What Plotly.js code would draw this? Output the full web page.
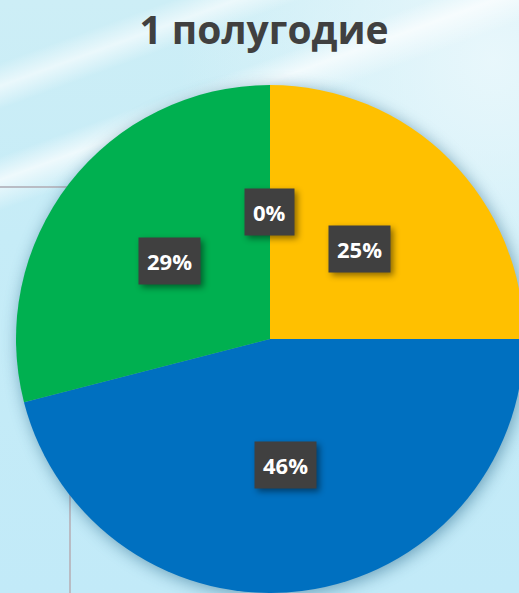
<!DOCTYPE html>
<html>
<head>
<meta charset="utf-8">
<script src="https://cdn.plot.ly/plotly-3.0.1.min.js"></script>
<style>
  html, body {
    margin: 0;
    padding: 0;
    width: 519px;
    height: 593px;
    overflow: hidden;
  }
  body {
    position: relative;
    background:
      linear-gradient(160deg, rgba(255,255,255,0) 0%, rgba(255,255,255,0) 20%, rgba(255,255,255,0.7) 23%, rgba(255,255,255,0) 27%, rgba(255,255,255,0) 100%),
      linear-gradient(160deg, rgba(255,255,255,0) 0%, rgba(255,255,255,0) 8%, rgba(255,255,255,0.6) 11%, rgba(255,255,255,0) 14%, rgba(255,255,255,0) 100%),
      radial-gradient(ellipse at 95% 10%, rgba(235,248,252,0.9) 0%, rgba(235,248,252,0) 45%),
      linear-gradient(180deg, #cdeef6 0%, #c6ecf7 40%, #c2eaf8 100%);
  }
  .deco-h { position: absolute; left: 0; top: 186px; width: 70px; height: 2px; background: #b9bcc4; }
  .deco-v { position: absolute; left: 69px; top: 186px; width: 2px; height: 420px; background: #b9bcc4; }
  #chart { position: absolute; left: 0; top: 0; width: 540px; height: 593px; }
  #chart .pielayer { filter: drop-shadow(2px 3px 8px rgba(0, 70, 110, 0.45)); }
  #chart .annotation rect.bg { filter: drop-shadow(3px 3px 3px rgba(0, 0, 0, 0.45)); }
</style>
</head>
<body>
<div class="deco-h"></div>
<div class="deco-v"></div>
<div id="chart"></div>
<script>
// chart data
var chartTitle = '1 полугодие';
var categories = ['Категория 1', 'Категория 2', 'Категория 3', 'Категория 4'];
var shares = [25, 46, 29, 0];
var sliceColors = ['#FFC000', '#0070C0', '#00B050', '#7F7F7F'];

var W = 540, H = 593;
var pieTop = 85, pieSize = 508; // pie box in px
var domX = [(270 - pieSize / 2) / W, (270 + pieSize / 2) / W];
var domY = [(H - pieTop - pieSize) / H, (H - pieTop) / H];

// percent labels sit half way out along each slice's middle angle
function labelAnnotations(vals) {
    var total = vals.reduce(function(a, b) { return a + b; }, 0);
    var cx = (domX[0] + domX[1]) / 2;
    var cy = (domY[0] + domY[1]) / 2;
    var r = pieSize / 2 * 0.5;
    var acc = 0;
    var out = [];
    for (let i = 0; i < vals.length; i++) {
        let mid = (acc + vals[i] / 2) / total * 2 * Math.PI;
        acc += vals[i];
        out.push({
            xref: 'paper', yref: 'paper',
            x: cx + r * Math.sin(mid) / W,
            y: cy + r * Math.cos(mid) / H,
            xanchor: 'center',
            yanchor: 'middle',
            text: Math.round(vals[i] / total * 100) + '%',
            showarrow: false,
            bgcolor: '#404040',
            borderpad: 8,
            font: { family: 'Open Sans, sans-serif', size: 22, color: '#ffffff', weight: 700 }
        });
    }
    return out;
}

var trace = {
    type: 'pie',
    labels: categories,
    values: shares,
    sort: false,
    direction: 'clockwise',
    rotation: 0,
    textinfo: 'none',
    hoverinfo: 'label+percent',
    marker: { colors: sliceColors, line: { width: 0 } },
    domain: { x: domX, y: domY }
};

var layout = {
    width: W,
    height: H,
    margin: { l: 0, r: 0, t: 0, b: 0 },
    paper_bgcolor: 'rgba(0,0,0,0)',
    plot_bgcolor: 'rgba(0,0,0,0)',
    showlegend: false,
    title: {
        text: chartTitle,
        x: 264 / W,
        xanchor: 'center',
        yref: 'container',
        y: 1 - 30 / H,
        yanchor: 'middle',
        font: { family: 'Open Sans, sans-serif', size: 39, color: '#404040', weight: 700 }
    },
    annotations: labelAnnotations(shares)
};

Plotly.newPlot('chart', [trace], layout, { displayModeBar: false, staticPlot: true });
</script>
</body>
</html>
